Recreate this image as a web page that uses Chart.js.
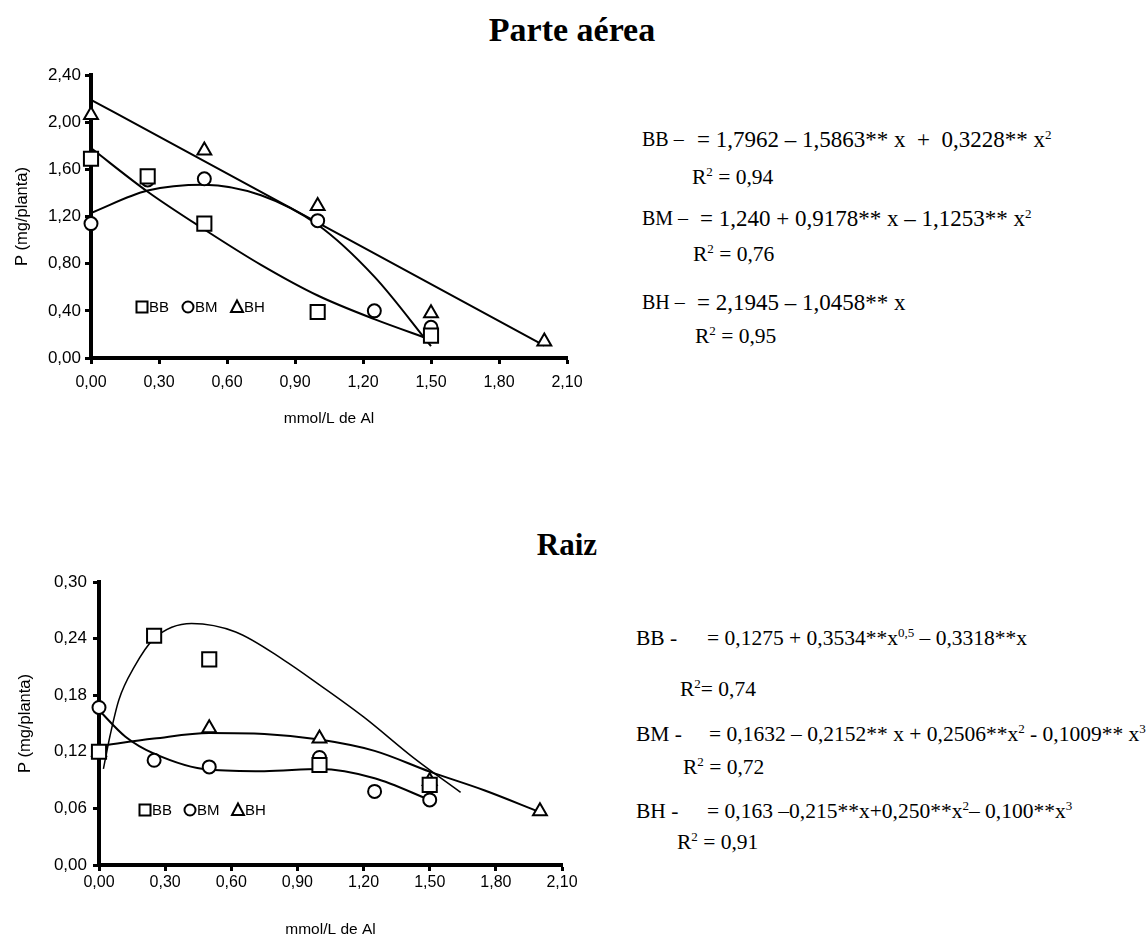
<!DOCTYPE html>
<html>
<head>
<meta charset="utf-8">
<title>P - Parte aérea e Raiz</title>
<script src="https://cdn.jsdelivr.net/npm/chart.js@4.4.0/dist/chart.umd.min.js"></script>
<style>
    body { margin: 0; background: #fff; width: 1146px; height: 939px; position: relative; overflow: hidden; }
    canvas { position: absolute; left: 0; }
    .titulo { position: absolute; font-family: "Liberation Serif", "Times New Roman", serif; font-weight: bold; font-size: 31px; transform: translate(-50%, -50%); white-space: nowrap; }
    .eq { position: absolute; font-family: "Liberation Serif", "Times New Roman", serif; font-size: 21.5px; line-height: 1; white-space: nowrap; transform: translateY(-50%); }
    .eq.grande { font-size: 23px; }
    .eq.rotulo { font-size: 20px; }
    .eq sup { font-size: 13px; vertical-align: 8px; line-height: 0; }
</style>
</head>
<body>

<div class="titulo" style="left:572px; top:30px; font-size:34px">Parte aérea</div>
<canvas id="chartAerea" width="600" height="400" style="top:50px"></canvas>

<div class="eq rotulo" style="left:642px; top:139px">BB –</div>
<div class="eq grande" style="left:697px; top:139px">= 1,7962 – 1,5863** x &nbsp;+ &nbsp;0,3228** x<sup>2</sup></div>
<div class="eq" style="left:692px; top:178px">R<sup>2</sup> = 0,94</div>
<div class="eq rotulo" style="left:642px; top:218px">BM –</div>
<div class="eq grande" style="left:700px; top:218px">= 1,240 + 0,9178** x – 1,1253** x<sup>2</sup></div>
<div class="eq" style="left:693px; top:255px">R<sup>2</sup> = 0,76</div>
<div class="eq rotulo" style="left:642px; top:302px">BH –</div>
<div class="eq grande" style="left:697px; top:302px">= 2,1945 – 1,0458** x</div>
<div class="eq" style="left:695px; top:337px">R<sup>2</sup> = 0,95</div>

<div class="titulo" style="left:567px; top:545px">Raiz</div>
<canvas id="chartRaiz" width="600" height="379" style="top:560px"></canvas>

<div class="eq" style="left:636px; top:639px">BB -</div>
<div class="eq" style="left:707px; top:639px">= 0,1275 + 0,3534**x<sup>0,5</sup> – 0,3318**x</div>
<div class="eq" style="left:680px; top:690px">R<sup>2</sup>= 0,74</div>
<div class="eq" style="left:636px; top:735px">BM -</div>
<div class="eq" style="left:709px; top:735px">= 0,1632 – 0,2152** x + 0,2506**x<sup>2</sup> - 0,1009** x<sup>3</sup></div>
<div class="eq" style="left:683px; top:768px">R<sup>2</sup> = 0,72</div>
<div class="eq" style="left:636px; top:812px">BH -</div>
<div class="eq" style="left:707px; top:812px">= 0,163 –0,215**x+0,250**x<sup>2</sup>– 0,100**x<sup>3</sup></div>
<div class="eq" style="left:677px; top:843px">R<sup>2</sup> = 0,91</div>

<script>
// Parte aérea - valores observados
const aereaBBx = [0, 0.25, 0.5, 1.0, 1.5];
const aereaBBy = [1.69, 1.54, 1.14, 0.39, 0.19];
const aereaBMx = [0, 0.25, 0.5, 1.0, 1.25, 1.5];
const aereaBMy = [1.14, 1.51, 1.52, 1.165, 0.40, 0.26];
const aereaBHx = [0, 0.5, 1.0, 1.5, 2.0];
const aereaBHy = [2.06, 1.76, 1.29, 0.38, 0.14];

// Parte aérea - curvas ajustadas
const aereaBBcurvaX = [0, 0.25, 0.5, 0.75, 1.0, 1.25, 1.5];
const aereaBBcurvaY = [1.78, 1.41, 1.09, 0.79, 0.53, 0.33, 0.155];
const aereaBMcurvaX = [0, 0.25, 0.5, 0.75, 1.0, 1.25, 1.5];
const aereaBMcurvaY = [1.23, 1.42, 1.47, 1.38, 1.13, 0.69, 0.10];
const aereaBHcurvaX = [0, 2.0];
const aereaBHcurvaY = [2.19, 0.105];

// Raiz - valores observados
const raizBBx = [0, 0.25, 0.5, 1.0, 1.5];
const raizBBy = [0.12, 0.243, 0.218, 0.106, 0.085];
const raizBMx = [0, 0.25, 0.5, 1.0, 1.25, 1.5];
const raizBMy = [0.167, 0.111, 0.104, 0.114, 0.078, 0.069];
const raizBHx = [0, 0.5, 1.0, 1.5, 2.0];
const raizBHy = [0.12, 0.145, 0.134, 0.089, 0.057];

// Raiz - curvas ajustadas
const raizBBcurvaX = [0.02, 0.05, 0.09, 0.16, 0.25, 0.42, 0.62, 0.84, 1.0, 1.2, 1.43, 1.64];
const raizBBcurvaY = [0.102, 0.137, 0.175, 0.21, 0.24, 0.256, 0.247, 0.217, 0.191, 0.157, 0.113, 0.077];
const raizBMcurvaX = [0, 0.12, 0.25, 0.5, 0.75, 1.0, 1.25, 1.5];
const raizBMcurvaY = [0.164, 0.136, 0.118, 0.101, 0.0995, 0.1017, 0.092, 0.069];
const raizBHcurvaX = [0, 0.25, 0.5, 0.75, 1.0, 1.25, 1.5, 1.75, 2.0];
const raizBHcurvaY = [0.126, 0.134, 0.140, 0.139, 0.133, 0.121, 0.099, 0.079, 0.056];

// Eixos
const eixoXTicks = { min: 0, max: 2.1, step: 0.3 };
const aereaYTicks = { min: 0, max: 2.4, step: 0.4 };
const raizYTicks = { min: 0, max: 0.3, step: 0.06 };

const serieNomes = ['BB', 'BM', 'BH'];
const serieSimbolos = ['rect', 'circle', 'triangle'];

const fonteEixo = '"Liberation Sans", Arial, sans-serif';

const pares = (xs, ys) => xs.map((x, i) => ({ x, y: ys[i] }));
const virgula = v => Number(v).toFixed(2).replace('.', ',');

// Legenda dentro da área do gráfico
const legendaInterna = {
    id: 'legendaInterna',
    afterDatasetsDraw(chart, args, opts) {
        const ctx = chart.ctx;
        ctx.save();
        ctx.strokeStyle = '#000';
        ctx.fillStyle = '#000';
        ctx.lineWidth = 2;
        ctx.font = '15px ' + fonteEixo;
        ctx.textBaseline = 'middle';
        opts.itens.forEach((item, i) => {
            const cx = opts.x[i];
            const cy = opts.y;
            ctx.beginPath();
            if (serieSimbolos[i] === 'rect') {
                ctx.rect(cx - 5.5, cy - 5.5, 11, 11);
            } else if (serieSimbolos[i] === 'circle') {
                ctx.arc(cx, cy, 5.5, 0, Math.PI * 2);
            } else {
                ctx.moveTo(cx, cy - 6.5);
                ctx.lineTo(cx + 6, cy + 5);
                ctx.lineTo(cx - 6, cy + 5);
                ctx.closePath();
            }
            ctx.stroke();
            ctx.fillText(item, cx + 7, cy + 1);
        });
        ctx.restore();
    }
};

const pontos = (dados, simbolo, raio) => ({
    data: dados,
    showLine: false,
    pointStyle: simbolo,
    pointRadius: raio,
    pointHoverRadius: raio,
    pointBorderWidth: 2,
    pointBorderColor: '#000',
    pointBackgroundColor: '#fff',
    clip: false,
    order: 0
});

const curva = (dados, largura) => ({
    data: dados,
    showLine: true,
    pointRadius: 0,
    borderColor: '#000',
    borderWidth: largura,
    cubicInterpolationMode: 'monotone',
    fill: false,
    order: 1
});

const criaGrafico = (canvasId, cfg) => {
    const ctx = document.getElementById(canvasId).getContext('2d');
    return new Chart(ctx, {
        type: 'scatter',
        data: { datasets: cfg.datasets },
        plugins: [legendaInterna],
        options: {
            responsive: false,
            animation: false,
            layout: { padding: { left: 0, right: cfg.padRight, top: cfg.padTop, bottom: 0 } },
            plugins: {
                legend: { display: false },
                tooltip: { enabled: false },
                legendaInterna: { itens: serieNomes, x: cfg.legX, y: cfg.legY }
            },
            scales: {
                x: {
                    type: 'linear',
                    min: eixoXTicks.min,
                    max: eixoXTicks.max,
                    afterFit: s => { s.height = cfg.xHeight; },
                    border: { color: '#000', width: 4 },
                    grid: { drawOnChartArea: false, drawTicks: true, tickLength: 6, tickWidth: 3, tickColor: '#000' },
                    ticks: {
                        stepSize: eixoXTicks.step,
                        autoSkip: false,
                        maxRotation: 0,
                        padding: cfg.xTickPad,
                        color: '#000',
                        font: { family: fonteEixo, size: 16 },
                        callback: v => virgula(v)
                    },
                    title: {
                        display: true,
                        text: 'mmol/L de Al',
                        color: '#000',
                        font: { family: fonteEixo, size: 15.5 },
                        padding: { top: 0, bottom: cfg.xTitlePad }
                    }
                },
                y: {
                    type: 'linear',
                    min: cfg.yTicks.min,
                    max: cfg.yTicks.max,
                    afterFit: s => { s.width = cfg.yWidth; },
                    border: { color: '#000', width: 4 },
                    grid: { drawOnChartArea: false, drawTicks: true, tickLength: 6, tickWidth: 3, tickColor: '#000' },
                    ticks: {
                        stepSize: cfg.yTicks.step,
                        padding: cfg.yTickPad,
                        color: '#000',
                        font: { family: fonteEixo, size: 17 },
                        callback: v => virgula(v)
                    },
                    title: {
                        display: true,
                        text: 'P (mg/planta)',
                        color: '#000',
                        font: { family: fonteEixo, size: 16.5 },
                        padding: { top: cfg.yTitlePad, bottom: 0 }
                    }
                }
            }
        }
    });
};

criaGrafico('chartAerea', {
    datasets: [
        pontos(pares(aereaBBx, aereaBBy), 'rect', 10),
        pontos(pares(aereaBMx, aereaBMy), 'circle', 6.5),
        pontos(pares(aereaBHx, aereaBHy), 'triangle', 8),
        curva(pares(aereaBBcurvaX, aereaBBcurvaY), 2),
        curva(pares(aereaBMcurvaX, aereaBMcurvaY), 2),
        curva(pares(aereaBHcurvaX, aereaBHcurvaY), 2)
    ],
    yTicks: aereaYTicks,
    padRight: 33,
    padTop: 25,
    xHeight: 92,
    yWidth: 91,
    xTickPad: 9,
    yTickPad: 4,
    xTitlePad: 22,
    yTitlePad: 13,
    legX: [142, 188, 237],
    legY: 257
});

criaGrafico('chartRaiz', {
    datasets: [
        pontos(pares(raizBBx, raizBBy), 'rect', 10),
        pontos(pares(raizBMx, raizBMy), 'circle', 6.5),
        pontos(pares(raizBHx, raizBHy), 'triangle', 8),
        curva(pares(raizBBcurvaX, raizBBcurvaY), 1.5),
        curva(pares(raizBMcurvaX, raizBMcurvaY), 2),
        curva(pares(raizBHcurvaX, raizBHcurvaY), 2)
    ],
    yTicks: raizYTicks,
    padRight: 38,
    padTop: 22,
    xHeight: 74,
    yWidth: 99,
    xTickPad: 2,
    yTickPad: 6,
    xTitlePad: 0,
    yTitlePad: 16,
    legX: [145, 190, 238],
    legY: 250
});
</script>
</body>
</html>
